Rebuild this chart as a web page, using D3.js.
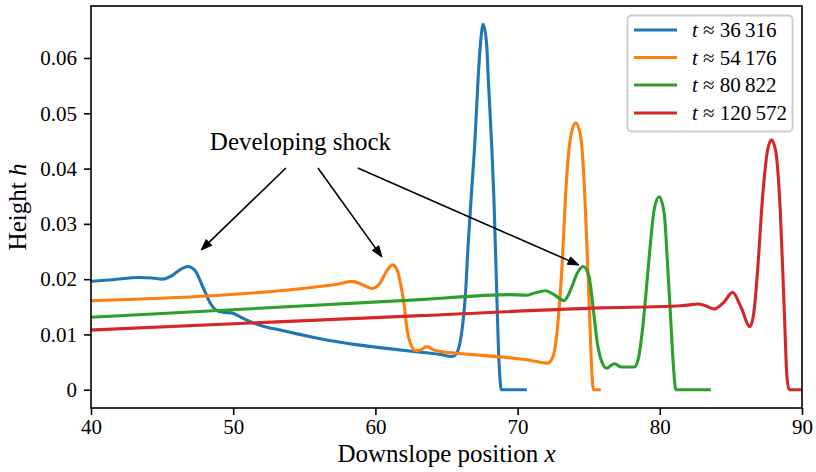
<!DOCTYPE html>
<html>
<head>
<meta charset="utf-8">
<script src="https://cdn.jsdelivr.net/npm/d3@7"></script>
<style>
  html, body { margin: 0; padding: 0; background: #fff; }
  svg { display: block; font-family: "Liberation Serif", "Times New Roman", serif; }
</style>
</head>
<body>
<svg id="chart" width="816" height="472"></svg>
<script>
// Film height profiles h(x) at four times, read as [x, h] pairs
const blueProfile = [
  [40.0, 0.0196], [41.5, 0.0199], [43.4, 0.0203], [44.3, 0.0202], [45.0, 0.0200],
  [45.6, 0.0205], [46.2, 0.0216], [46.8, 0.0223], [47.3, 0.0216], [47.9, 0.0184],
  [48.4, 0.0156], [48.8, 0.0144], [49.3, 0.0140], [49.9, 0.0139], [50.4, 0.0133],
  [51.2, 0.0123], [52.1, 0.0115], [53.3, 0.0108], [54.5, 0.0101], [55.6, 0.0095],
  [57.0, 0.0088], [58.5, 0.0082], [60.0, 0.0077], [61.4, 0.0073], [62.7, 0.0069],
  [64.5, 0.0064], [65.4, 0.0060], [65.63, 0.0063],
  [65.94, 0.0084], [66.15, 0.0120], [66.34, 0.0175], [66.50, 0.0253], [66.74, 0.0349],
  [66.99, 0.0446], [67.23, 0.0566], [67.39, 0.0626], [67.58, 0.0661], [67.82, 0.0626],
  [67.93, 0.0566], [68.17, 0.0446], [68.33, 0.0349], [68.50, 0.0205], [68.64, 0.0084],
  [68.75, 0.0024], [68.87, 0.0], [70.65, 0.0]
];
const orangeProfile = [
  [40.0, 0.0161], [57.07, 0.0190], [57.7, 0.0193], [58.36, 0.0196], [59.1, 0.0190],
  [59.77, 0.0183], [60.3, 0.0192], [60.8, 0.0215], [61.2, 0.0226], [61.5, 0.0218],
  [61.76, 0.0193], [62.04, 0.0150], [62.23, 0.0108], [62.46, 0.0084], [62.82, 0.0071],
  [63.17, 0.0072], [63.64, 0.0078], [64.1, 0.0072], [64.58, 0.0069], [65.75, 0.0066],
  [70.92, 0.0053], [72.09, 0.0048], [72.44, 0.0057], [72.68, 0.0084], [72.91, 0.0144],
  [73.15, 0.0235], [73.38, 0.0355], [73.73, 0.0457], [74.08, 0.0483], [74.44, 0.0457],
  [74.72, 0.0355], [74.91, 0.0235], [75.05, 0.0144], [75.19, 0.0048], [75.33, 0.0],
  [75.85, 0.0]
];
const greenProfile = [
  [40.0, 0.0131], [63.17, 0.0163], [69.5, 0.0172], [70.6, 0.0171], [71.2, 0.0175],
  [71.97, 0.0179], [72.56, 0.0172], [73.27, 0.0161], [73.73, 0.0181], [74.2, 0.0211],
  [74.62, 0.0223], [75.02, 0.0205], [75.33, 0.0144], [75.61, 0.0084], [75.96, 0.0048],
  [76.25, 0.0039], [76.79, 0.0047], [77.3, 0.0041], [78.2, 0.0041], [78.47, 0.0054],
  [78.78, 0.0108], [79.01, 0.0169], [79.32, 0.0259], [79.6, 0.0325], [79.95, 0.0349],
  [80.31, 0.0319], [80.54, 0.0229], [80.77, 0.0126], [80.96, 0.0042], [81.13, 0.0],
  [83.59, 0.0]
];
const redProfile = [
  [40.0, 0.0108], [63.17, 0.0134], [75.85, 0.0148], [81.48, 0.0152], [82.0, 0.0153],
  [82.65, 0.0155], [83.2, 0.0152], [83.83, 0.0146], [84.5, 0.0158], [85.12, 0.0176],
  [85.7, 0.0150], [86.34, 0.0114], [86.64, 0.0145], [86.88, 0.0217], [87.23, 0.0349],
  [87.58, 0.0433], [87.86, 0.0452], [88.17, 0.0428], [88.48, 0.0319], [88.76, 0.0139],
  [88.94, 0.0024], [89.1, 0.0], [90.0, 0.0]
];

const seriesTimes = ["36\u2009316", "54\u2009176", "80\u2009822", "120\u2009572"];
const seriesColors = ["#1f77b4", "#ff7f0e", "#2ca02c", "#d62728"];
const profiles = [blueProfile, orangeProfile, greenProfile, redProfile];

const xTicks = [40, 50, 60, 70, 80, 90];
const yTicks = [0, 0.01, 0.02, 0.03, 0.04, 0.05, 0.06];

// Annotation: label position and arrows, in data units
const shockLabel = { text: "Developing shock", x: 54.73, y: 0.04335 };
const shockArrows = [
  { from: [53.71, 0.0401], to: [47.74, 0.02526] },
  { from: [55.96, 0.0401], to: [60.46, 0.0240] },
  { from: [58.76, 0.0401], to: [74.32, 0.02255] }
];

// Layout
const plot = { left: 91, right: 802, top: 6, bottom: 408 };
const serif = "Liberation Serif, Times New Roman, serif";
const svg = d3.select("#chart");

const x = d3.scaleLinear().domain([40, 90]).range([plot.left, plot.right]);
const allH = profiles.flat().map(d => d[1]);
const hMin = d3.min(allH), hMax = d3.max(allH);
const pad = 0.05 * (hMax - hMin);
const y = d3.scaleLinear().domain([hMin - pad, hMax + pad]).range([plot.bottom, plot.top]);

svg.append("defs").append("clipPath").attr("id", "plotClip")
  .append("rect")
  .attr("x", plot.left).attr("y", plot.top)
  .attr("width", plot.right - plot.left).attr("height", plot.bottom - plot.top);

// Profiles
const line = d3.line().x(d => x(d[0])).y(d => y(d[1])).curve(d3.curveMonotoneX);
svg.append("g").attr("clip-path", "url(#plotClip)")
  .selectAll("path").data(profiles).join("path")
  .attr("d", line)
  .attr("fill", "none")
  .attr("stroke", (d, i) => seriesColors[i])
  .attr("stroke-width", 3.1)
  .attr("stroke-linejoin", "round");

// Axes
const xAxis = d3.axisBottom(x).tickValues(xTicks).tickFormat(d3.format("d"))
  .tickSize(7).tickPadding(4).tickSizeOuter(0);
const yAxis = d3.axisLeft(y).tickValues(yTicks)
  .tickFormat(d => d === 0 ? "0" : d.toFixed(2))
  .tickSize(7).tickPadding(7).tickSizeOuter(0);

const gx = svg.append("g").attr("transform", `translate(0,${plot.bottom})`).call(xAxis);
const gy = svg.append("g").attr("transform", `translate(${plot.left},0)`).call(yAxis);
[gx, gy].forEach(g => {
  g.attr("font-family", serif).attr("font-size", 21);
  g.select(".domain").remove();
  g.selectAll(".tick line").attr("stroke", "#000").attr("stroke-width", 1.6);
  g.selectAll(".tick text").attr("fill", "#000");
});

// Frame
svg.append("rect")
  .attr("x", plot.left).attr("y", plot.top)
  .attr("width", plot.right - plot.left).attr("height", plot.bottom - plot.top)
  .attr("fill", "none").attr("stroke", "#000").attr("stroke-width", 1.6);

// Axis titles
const xTitle = svg.append("text")
  .attr("x", (plot.left + plot.right) / 2).attr("y", 462)
  .attr("text-anchor", "middle").attr("font-family", serif).attr("font-size", 25);
xTitle.append("tspan").text("Downslope position ");
xTitle.append("tspan").attr("font-style", "italic").text("x");

const yTitle = svg.append("text")
  .attr("transform", `translate(26,${(plot.top + plot.bottom) / 2}) rotate(-90)`)
  .attr("text-anchor", "middle").attr("font-family", serif).attr("font-size", 25);
yTitle.append("tspan").text("Height ");
yTitle.append("tspan").attr("font-style", "italic").text("h");

// Annotation
svg.append("text")
  .attr("x", x(shockLabel.x)).attr("y", y(shockLabel.y))
  .attr("text-anchor", "middle").attr("font-family", serif).attr("font-size", 25)
  .text(shockLabel.text);

const headLen = 11, headHalf = 4;
shockArrows.forEach(a => {
  const x0 = x(a.from[0]), y0 = y(a.from[1]);
  const x1 = x(a.to[0]), y1 = y(a.to[1]);
  const ang = Math.atan2(y1 - y0, x1 - x0);
  const bx = x1 - headLen * Math.cos(ang), by = y1 - headLen * Math.sin(ang);
  svg.append("line")
    .attr("x1", x0).attr("y1", y0).attr("x2", bx).attr("y2", by)
    .attr("stroke", "#000").attr("stroke-width", 1.6);
  const px = -Math.sin(ang) * headHalf, py = Math.cos(ang) * headHalf;
  svg.append("path")
    .attr("d", `M${x1},${y1}L${bx + px},${by + py}L${bx - px},${by - py}Z`)
    .attr("fill", "#000").attr("stroke", "#000").attr("stroke-width", 1)
    .attr("stroke-linejoin", "miter");
});

// Legend
const legend = svg.append("g");
legend.append("rect")
  .attr("x", 627.5).attr("y", 15.5).attr("width", 165).attr("height", 116)
  .attr("rx", 4).attr("ry", 4)
  .attr("fill", "#fff").attr("fill-opacity", 0.8)
  .attr("stroke", "#cccccc").attr("stroke-width", 1.8);
const rowY = [30, 57.5, 85, 113];
seriesTimes.forEach((t, i) => {
  legend.append("line")
    .attr("x1", 634).attr("x2", 677).attr("y1", rowY[i]).attr("y2", rowY[i])
    .attr("stroke", seriesColors[i]).attr("stroke-width", 3.1);
  const lbl = legend.append("text")
    .attr("x", 692).attr("y", rowY[i]).attr("dy", "0.35em")
    .attr("font-family", serif).attr("font-size", 21);
  lbl.append("tspan").attr("font-style", "italic").text("t");
  lbl.append("tspan").text(" \u2248 " + t);
});
</script>
</body>
</html>
